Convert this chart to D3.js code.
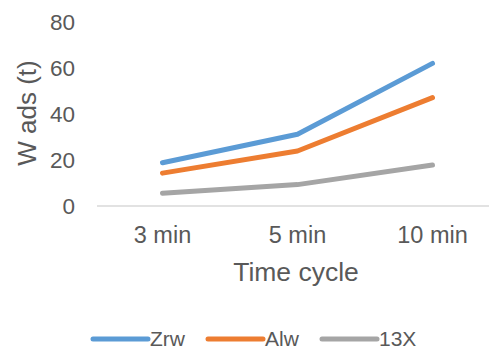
<!DOCTYPE html>
<html><head><meta charset="utf-8">
<script src="https://cdn.jsdelivr.net/npm/d3@7"></script>
<style>body{margin:0;background:#fff}svg{display:block}text{font-family:"Liberation Sans",Arial,sans-serif;fill:#595959}</style>
</head><body><svg id="c" width="491" height="350"></svg>
<script>
const categories = ["3 min", "5 min", "10 min"];
const seriesNames = ["Zrw", "Alw", "13X"];
const zrw = [18.8, 31.2, 62.0];
const alw = [14.3, 23.9, 47.1];
const x13 = [5.5, 9.3, 17.8];
const yTicks = [0, 20, 40, 60, 80];
const colors = ["#5B9BD5", "#ED7D31", "#A5A5A5"];
const series = [zrw, alw, x13];

const svg = d3.select("#c");
const x = d3.scaleBand().domain(categories).range([95, 500]);
const y = d3.scaleLinear().domain([0, 80]).range([206, 22]);

// y tick labels
svg.append("g").selectAll("text").data(yTicks).join("text")
  .attr("x", 75).attr("y", d => y(d)).attr("dy", "0.35em")
  .attr("text-anchor", "end").style("font-size", "22.5px").text(d => d);

// x axis line
svg.append("line").attr("x1", 97).attr("x2", 489).attr("y1", y(0)).attr("y2", y(0))
  .attr("stroke", "#D9D9D9").attr("stroke-width", 1.5);

// x tick labels
svg.append("g").selectAll("text").data(categories).join("text")
  .attr("x", d => x(d) + x.bandwidth() / 2).attr("y", 235).attr("dy", "0.35em")
  .attr("text-anchor", "middle").style("font-size", "23.5px").text(d => d);

// titles
svg.append("text").attr("x", 296).attr("y", 272).attr("dy", "0.35em")
  .attr("text-anchor", "middle").style("font-size", "26.5px").text("Time cycle");
svg.append("text").attr("transform", "translate(27,113) rotate(-90)").attr("dy", "0.35em")
  .attr("text-anchor", "middle").style("font-size", "26px").text("W ads (t)");

// lines
const line = d3.line().x((d, i) => x(categories[i]) + x.bandwidth() / 2).y(d => y(d));
svg.append("g").selectAll("path").data(series).join("path")
  .attr("d", line).attr("fill", "none").attr("stroke", (d, i) => colors[i])
  .attr("stroke-width", 5).attr("stroke-linecap", "round").attr("stroke-linejoin", "round");

// legend
const lx = [93, 208, 322];
const lg = svg.append("g").selectAll("g").data(seriesNames).join("g")
  .attr("transform", (d, i) => `translate(${lx[i]},339)`);
lg.append("line").attr("x1", 0).attr("x2", 55).attr("y1", 0).attr("y2", 0)
  .attr("stroke", (d, i) => colors[i]).attr("stroke-width", 5).attr("stroke-linecap", "round");
lg.append("text").attr("x", 57).attr("dy", "0.35em").style("font-size", "21px").text(d => d);
</script></body></html>
